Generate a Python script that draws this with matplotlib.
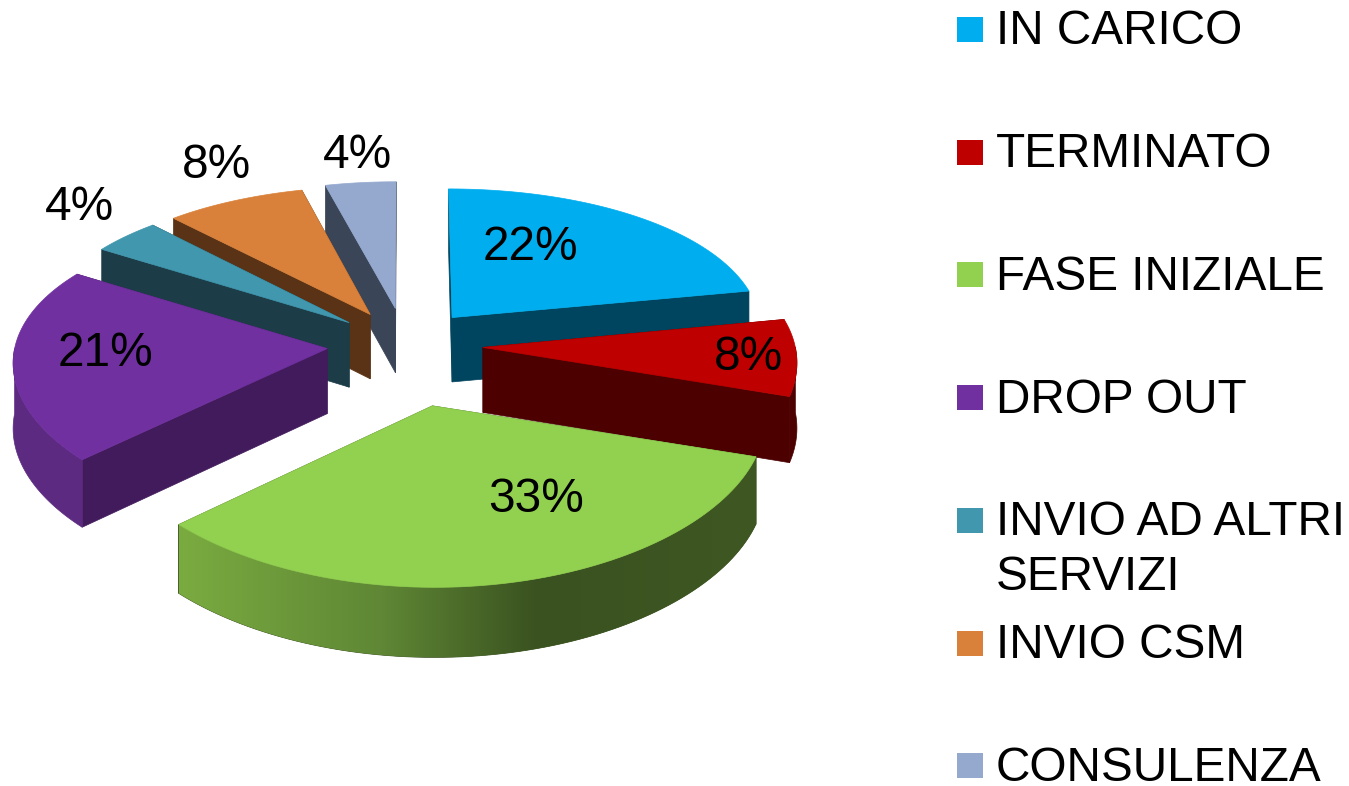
import numpy as np
import matplotlib
matplotlib.use("Agg")
import matplotlib.pyplot as plt
from matplotlib.colors import LinearSegmentedColormap
from matplotlib.patches import Polygon, Rectangle

plt.rcParams["font.family"] = ["Liberation Sans", "DejaVu Sans"]

# chart data
categories = ["IN CARICO", "TERMINATO", "FASE INIZIALE", "DROP OUT",
              "INVIO AD ALTRI\nSERVIZI", "INVIO CSM", "CONSULENZA"]
values = [22, 8, 33, 21, 4, 8, 4]

# style
top_colors = ["#00AEEF", "#BE0000", "#92D050", "#7030A0", "#4097AE", "#D9813A", "#95A9CF"]
wall_colors = ["#00455F", "#4C0000", "#3A5220", "#421B5C", "#1C3C48", "#5A3316", "#3A4558"]
rim_colors = ["#00455F", "#4C0000", "#3A5220", "#5C2A80", "#1C3C48", "#5A3316", "#3A4558"]
explode = [0.24, 0.25, 0.39, 0.25, 0.235, 0.235, 0.25]
stretch_x = [1, 1, 1.03, 1, 1, 1, 1]
stretch_y = [1, 1, 0.94, 0.97, 1, 1, 1]
label_pos = [(530, 247), (748, 358), (536, 499), (105, 353), (79, 208), (216, 165), (358, 155)]
draw_order = [6, 5, 4, 3, 0, 1, 2]

cx, cy = 405, 345      # pie centre on the canvas
a, b = 312, 152        # ellipse radii
kx, ky = 0.08, 0.13    # perspective strength
depth = 65             # thickness of the pie
green_sweep = LinearSegmentedColormap.from_list(
    "sweep", [(0, "#7AAB40"), (0.35, "#5F8735"), (0.62, "#3A5220"), (1, "#3F5722")])


def project(x, y, drop=0.0):
    py = 1 / (1 - ky * y)
    return cx + a * x / (1 - kx * y), cy + b * y * py + depth * py ** 0.4 * drop


fig = plt.figure(figsize=(13.49, 7.86), dpi=100)
ax = fig.add_axes([0, 0, 1, 1])
ax.axis("off")

edges = np.cumsum([0] + values) / sum(values) * 2 * np.pi

for i in draw_order:
    start, end = edges[i], edges[i + 1]
    mid = (start + end) / 2
    ox, oy = explode[i] * np.sin(mid), -explode[i] * np.cos(mid)
    sx, sy = stretch_x[i], stretch_y[i]

    # radial walls
    for t in (start, end):
        ex, ey = ox + sx * np.sin(t), oy - sy * np.cos(t)
        wall = [project(ox, oy), project(ex, ey), project(ex, ey, 1), project(ox, oy, 1)]
        ax.add_patch(Polygon(wall, facecolor=wall_colors[i], edgecolor=wall_colors[i], lw=0.5))

    # outer rim, only the part facing the viewer
    lo, hi = max(start, np.pi / 2), min(end, 3 * np.pi / 2)
    if lo < hi:
        t = np.linspace(lo, hi, 80)
        upper = [project(ox + sx * np.sin(v), oy - sy * np.cos(v)) for v in t]
        lower = [project(ox + sx * np.sin(v), oy - sy * np.cos(v), 1) for v in t[::-1]]
        rim = Polygon(upper + lower, facecolor=rim_colors[i], edgecolor=rim_colors[i], lw=0.5)
        ax.add_patch(rim)
        if i == 2:
            xs = [p[0] for p in upper + lower]
            ys = [p[1] for p in upper + lower]
            img = ax.imshow(np.linspace(0, 1, 256).reshape(1, -1), cmap=green_sweep, aspect="auto",
                            extent=(min(xs), max(xs), max(ys), min(ys)), zorder=rim.get_zorder())
            img.set_clip_path(rim)

    # top face
    t = np.linspace(start, end, 80)
    top = [project(ox, oy)] + [project(ox + sx * np.sin(v), oy - sy * np.cos(v)) for v in t]
    ax.add_patch(Polygon(top, facecolor=top_colors[i], edgecolor=top_colors[i], lw=0.5, zorder=2))

for v, (lx, ly) in zip(values, label_pos):
    ax.text(lx, ly, f"{v}%", fontsize=34.4, color="black", ha="center", va="center", zorder=5)

# legend
for i, name in enumerate(categories):
    ly = 29 + i * 122.7
    ax.add_patch(Rectangle((957, ly - 12), 26, 25, facecolor=top_colors[i], edgecolor="none"))
    for n, line in enumerate(name.split("\n")):
        ax.text(996, ly + 3 + n * 55, line, fontsize=34.4, color="black", ha="left", va="center")

ax.set_xlim(0, 1349)
ax.set_ylim(786, 0)
fig.savefig("out.png", dpi=100)
